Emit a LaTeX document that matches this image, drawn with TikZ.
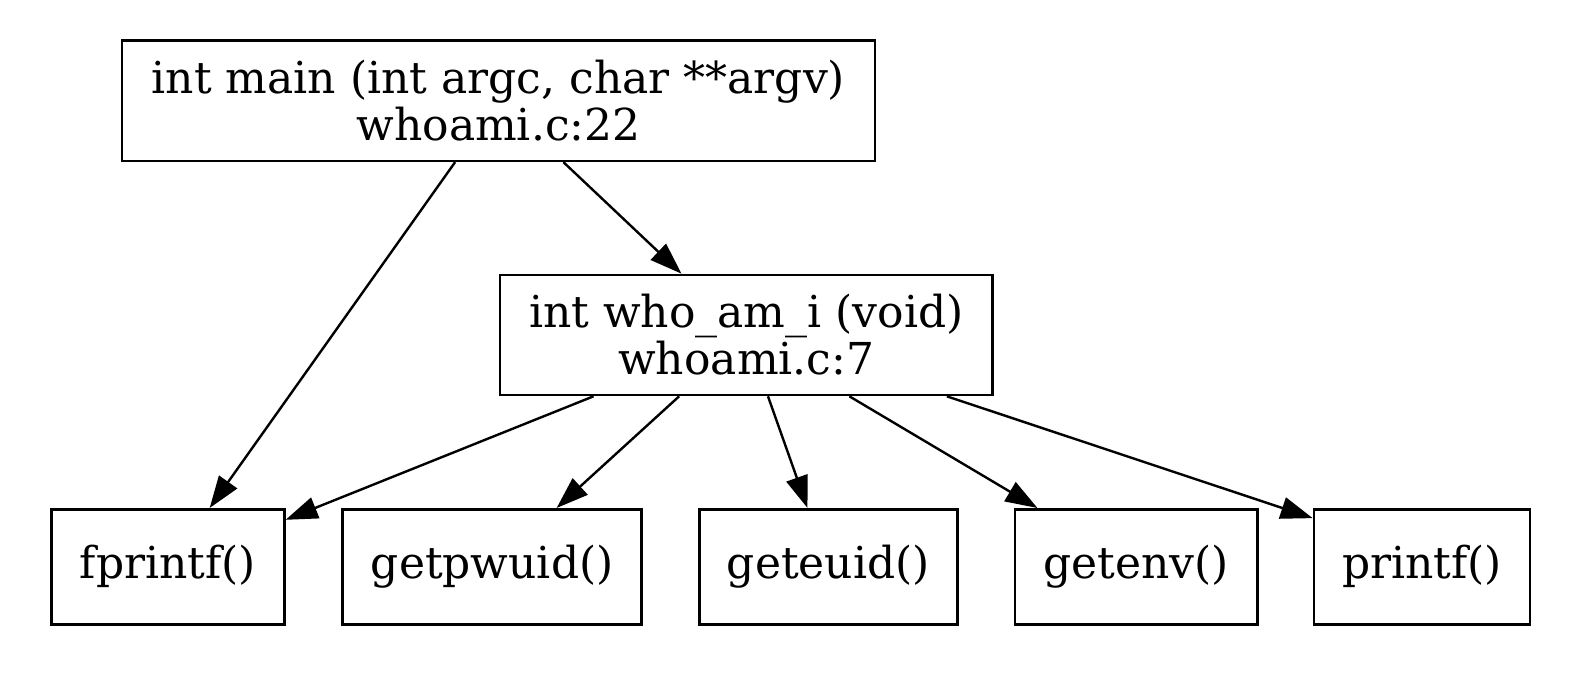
\documentclass[tikz,border=0pt]{standalone}
\usepackage{fontspec}
\setmainfont{DejaVu Serif}
\usetikzlibrary{arrows.meta}
\begin{document}
\begin{tikzpicture}[x=0.5pt, y=-0.5pt,
    func/.style={draw, line width=1.3pt, align=center, inner sep=0pt,
      font=\fontsize{22}{23.5}\selectfont, minimum height=57.5pt},
    call/.style={-{Triangle[length=16pt,width=11pt]}, line width=1.2pt}]
  \useasboundingbox (0,0) rectangle (1590,674);
  % callers, one per row
  \node[func, minimum width=376.5pt, minimum height=60pt] (main) at (498.5,100.8)
    {int main (int argc, char **argv)\\whoami.c:22};
  \node[func, minimum width=246.4pt, minimum height=60pt] (whoami) at (746.3,335)
    {int who\_am\_i (void)\\whoami.c:7};
  % library calls on the bottom row
  \node[func, minimum width=116.3pt] (fprintf) at (168,566.8) {fprintf()};
  \node[func, minimum width=149.5pt] (getpwuid) at (492.2,566.8) {getpwuid()};
  \node[func, minimum width=129pt] (geteuid) at (828.3,566.8) {geteuid()};
  \node[func, minimum width=121.4pt] (getenv) at (1136.3,566.8) {getenv()};
  \node[func, minimum width=108pt] (printf) at (1422,566.8) {printf()};
  % call edges
  \draw[call] (main) -- (fprintf);
  \draw[call] (main) -- (whoami);
  \draw[call] (whoami) -- (fprintf);
  \draw[call] (whoami) -- (getpwuid);
  \draw[call] (whoami) -- (geteuid);
  \draw[call] (whoami) -- (getenv);
  \draw[call] (whoami.-17.5) -- (printf.156);
\end{tikzpicture}
\end{document}
